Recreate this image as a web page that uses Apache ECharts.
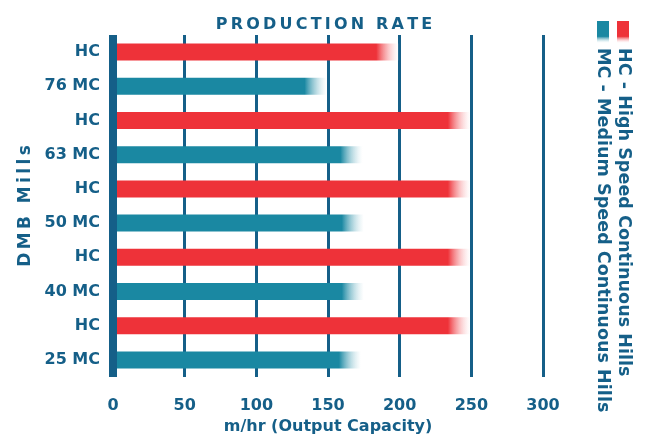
<!DOCTYPE html>
<html>
<head>
<meta charset="utf-8">
<script src="https://cdn.jsdelivr.net/npm/echarts@6/dist/echarts.min.js"></script>
<style>
  html, body { margin: 0; padding: 0; background: #fff; }
  #chart { width: 646px; height: 434px; }
</style>
</head>
<body>
<div id="chart"></div>
<script>
// categories top to bottom
var mills = ["HC", "76 MC", "HC", "63 MC", "HC", "50 MC", "HC", "40 MC", "HC", "25 MC"];
var rates = [199, 149, 249, 174, 249, 175, 249, 175, 249, 173];
var xTicks = [0, 50, 100, 150, 200, 250, 300];
var legendTexts = ["HC - High Speed Continuous Hills", "MC - Medium Speed Continuous Hills"];

var RED = "#ee3239";
var TEAL = "#1a88a2";
var NAVY = "#155f88";
var FONT = "DejaVu Sans";
var pxPerUnit = 430 / 300;

function spaced(s) {
  return s.split("").join("\u2009");
}

function fade(color, value) {
  // bar end fades out over ~22px
  var s = Math.max(0, 1 - 22 / (value * pxPerUnit));
  return {
    type: "linear", x: 0, y: 0, x2: 1, y2: 0,
    colorStops: [
      { offset: 0, color: color },
      { offset: s, color: color },
      { offset: 1, color: "rgba(255,255,255,0.35)" }
    ]
  };
}

var barData = mills.map(function (m, i) {
  var c = m === "HC" ? RED : TEAL;
  return { value: rates[i], itemStyle: { color: fade(c, rates[i]) } };
});

var chart = echarts.init(document.getElementById("chart"));
chart.setOption({
  animation: false,
  title: {
    text: spaced("PRODUCTION RATE"),
    left: 319, top: 12, textAlign: "center",
    textStyle: { fontFamily: FONT, fontSize: 16, fontWeight: "bold", color: NAVY }
  },
  grid: { left: 113, right: 103, top: 35, bottom: 57, containLabel: false, outerBoundsMode: "none" },
  xAxis: {
    type: "value",
    min: 0, max: 300, interval: 50,
    axisLine: { show: false },
    axisTick: { show: false },
    splitLine: { lineStyle: { color: NAVY, width: 3 } },
    axisLabel: {
      margin: 21, color: NAVY, fontFamily: FONT, fontWeight: "bold", fontSize: 16,
      formatter: function (v) { return xTicks.indexOf(v) >= 0 ? String(v) : ""; }
    },
    name: "m/hr (Output Capacity)",
    nameLocation: "middle",
    nameGap: 42,
    nameTextStyle: { color: NAVY, fontFamily: FONT, fontWeight: "bold", fontSize: 16 }
  },
  yAxis: {
    type: "category",
    data: mills,
    inverse: true,
    z: 3,
    axisLine: { lineStyle: { color: NAVY, width: 8, cap: "butt" } },
    axisTick: { show: false },
    axisLabel: { margin: 13, color: NAVY, fontFamily: FONT, fontWeight: "bold", fontSize: 16 },
    name: spaced("DMB Mills"),
    nameLocation: "middle",
    nameGap: 76,
    nameTextStyle: { color: NAVY, fontFamily: FONT, fontWeight: "bold", fontSize: 17 }
  },
  series: [{
    type: "bar",
    data: barData,
    barWidth: 17,
    z: 2
  }],
  graphic: [
    {
      type: "rect", left: 617, top: 21,
      shape: { width: 12, height: 22 },
      style: { fill: { type: "linear", x: 0, y: 0, x2: 0, y2: 1,
        colorStops: [{ offset: 0, color: RED }, { offset: 0.7, color: RED }, { offset: 1, color: "rgba(255,255,255,0.2)" }] } }
    },
    {
      type: "rect", left: 597, top: 21,
      shape: { width: 12, height: 22 },
      style: { fill: { type: "linear", x: 0, y: 0, x2: 0, y2: 1,
        colorStops: [{ offset: 0, color: TEAL }, { offset: 0.7, color: TEAL }, { offset: 1, color: "rgba(255,255,255,0.2)" }] } }
    },
    {
      type: "text", x: 624, y: 48, rotation: -Math.PI / 2,
      style: { text: legendTexts[0], fill: NAVY, font: "bold 17.6px " + FONT, textVerticalAlign: "middle", textAlign: "left" }
    },
    {
      type: "text", x: 603, y: 48, rotation: -Math.PI / 2,
      style: { text: legendTexts[1], fill: NAVY, font: "bold 17.6px " + FONT, textVerticalAlign: "middle", textAlign: "left" }
    }
  ]
});
</script>
</body>
</html>
